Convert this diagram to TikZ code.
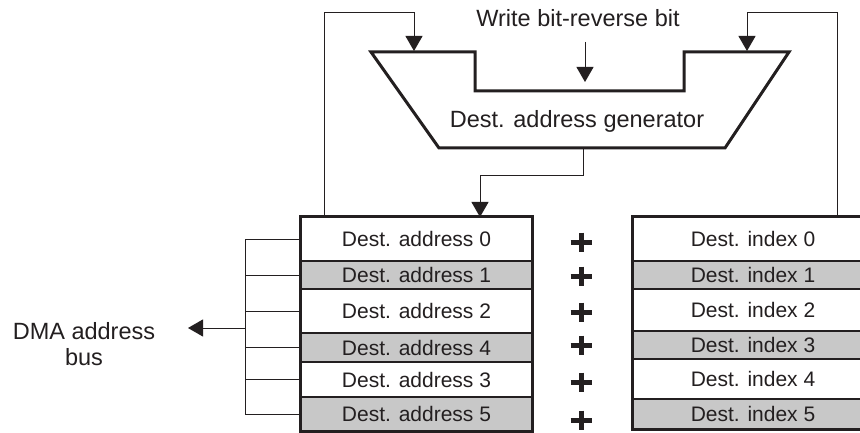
\documentclass[tikz,border=0pt]{standalone}
\usepackage{fontspec}
\setmainfont{Liberation Sans}
\usetikzlibrary{arrows.meta}
\definecolor{rowgrey}{RGB}{200,200,200}
\definecolor{ink}{RGB}{35,31,32}
\begin{document}
\begin{tikzpicture}[x=1pt,y=-1pt,
  thinline/.style={draw=ink,line width=1pt},
  arr/.style={thinline,-{Triangle[width=17pt,length=15pt]}},
  rowbox/.style={draw=ink,line width=1.3pt,inner sep=0pt,font=\fontsize{21}{25}\selectfont,text=ink},
  whiterow/.style={rowbox,fill=white},
  greyrow/.style={rowbox,fill=rowgrey},
  lbl/.style={font=\fontsize{23.5}{26}\selectfont,text=ink,inner sep=0pt},
  frame/.style={draw=ink,line width=3pt,line join=miter},
  plusbar/.style={draw=ink,line width=5pt}
]
\useasboundingbox (0,0) rectangle (860,433);
\clip (0,0) rectangle (860,433);
\fill[white] (0,0) rectangle (860,433);

% left register block
\node[whiterow,minimum width=231pt,minimum height=44pt] (L0) at (416.5,239) {Dest. address 0};
\node[greyrow,minimum width=231pt,minimum height=28pt] (L1) at (416.5,275) {Dest. address 1};
\node[whiterow,minimum width=231pt,minimum height=44pt] (L2) at (416.5,311) {Dest. address 2};
\node[greyrow,minimum width=231pt,minimum height=29pt] (L3) at (416.5,347.5) {Dest. address 4};
\node[whiterow,minimum width=231pt,minimum height=35pt] (L4) at (416.5,379.5) {Dest. address 3};
\node[greyrow,minimum width=231pt,minimum height=34pt] (L5) at (416.5,414) {Dest. address 5};
\draw[frame] (L0.north west) rectangle (L5.south east);

% right register block
\node[whiterow,minimum width=240pt,minimum height=44pt] (R0) at (753,239) {Dest. index 0};
\node[greyrow,minimum width=240pt,minimum height=28pt] (R1) at (753,275) {Dest. index 1};
\node[whiterow,minimum width=240pt,minimum height=42pt] (R2) at (753,310) {Dest. index 2};
\node[greyrow,minimum width=240pt,minimum height=28pt] (R3) at (753,345) {Dest. index 3};
\node[whiterow,minimum width=240pt,minimum height=40pt] (R4) at (753,379) {Dest. index 4};
\node[greyrow,minimum width=240pt,minimum height=30pt] (R5) at (753,414) {Dest. index 5};
\draw[frame] (R0.north west) rectangle (R5.south east);

% plus signs
\foreach \py in {242,276,312,345,382,420}{
  \draw[plusbar] (570.5,\py) -- (591.5,\py);
  \draw[plusbar] (581,\py-9.5) -- (581,\py+9.5);
}

% address generator
\coordinate (tl) at (371,52);
\coordinate (nl) at (475,91);
\coordinate (nr) at (684,91);
\coordinate (tr) at (789,52);
\coordinate (br) at (725,148);
\coordinate (bl) at (439,148);
\draw[frame,fill=white] (tl) -- (tl -| nl) -- (nl) -- (nr) -- (tr -| nr) -- (tr) -- (br) -- (bl) -- cycle;
\node[lbl,anchor=base] (gen) at (577,128) {Dest. address generator};
\node[lbl,anchor=base] (wb) at (578,27) {Write bit-reverse bit};

% write bit-reverse arrow
\coordinate (wbs) at (585,42);
\coordinate (wbe) at (585,82);
\draw[arr] (wbs) -- (wbe);

% generator output to left block
\coordinate (genout) at (583,148);
\coordinate (inA) at (480,217);
\draw[arr] (genout) -- (583,176) -| (inA);

% feedback loops
\coordinate (fbL) at (324,217);
\coordinate (inL) at (414,51);
\draw[arr] (fbL) -- (324,13) -| (inL);
\coordinate (fbR) at (837,217);
\coordinate (inR) at (747,51);
\draw[arr] (fbR) -- (837,13) -| (inR);

% DMA address bus
\coordinate (bus) at (245,0);
\foreach \r in {L0,L1,L2,L3,L4,L5}{
  \draw[thinline] (\r.west) -- (\r.west -| bus);
}
\draw[thinline] (L0.west -| bus) -- (L5.west -| bus);
\node[lbl,align=center] (dma) at (84,344) {DMA address\\bus};
\coordinate (busout) at (245,328);
\coordinate (dmatip) at (188,328);
\draw[arr] (busout) -- (dmatip);
\end{tikzpicture}
\end{document}
